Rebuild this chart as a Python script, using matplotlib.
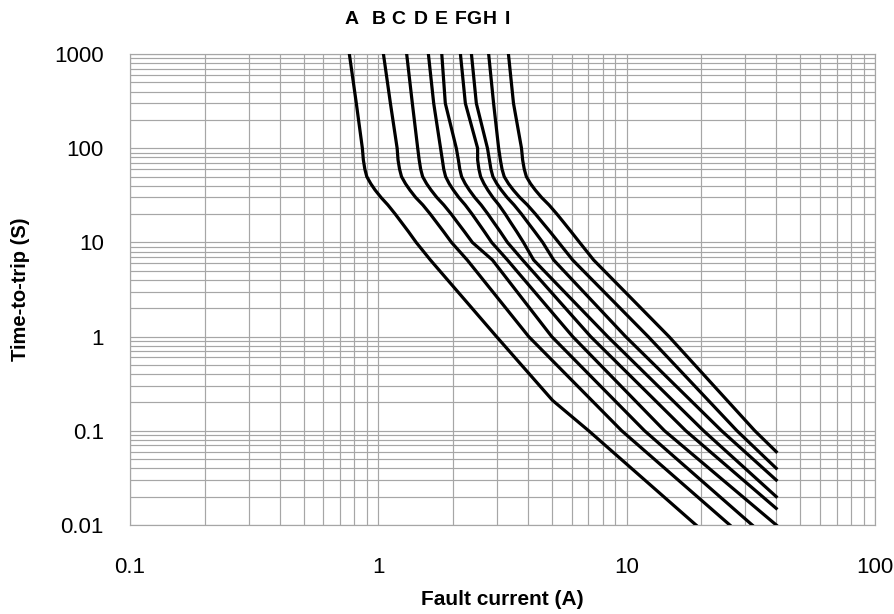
import matplotlib

matplotlib.use("Agg")
import matplotlib.pyplot as plt
from matplotlib.ticker import LogLocator, NullFormatter

# Curve names and where their letters sit along the top (fault current, A)
CURVES = ["A", "B", "C", "D", "E", "F", "G", "H", "I"]
LABEL_X = [0.778, 1.0, 1.204, 1.477, 1.795, 2.14, 2.42, 2.80, 3.31]

# Time-to-trip (s), shared by all curves down to 0.1 s
TRIP_TIMES = [1000, 300, 100, 75, 60, 50, 42, 36, 30, 25, 20, 16.5, 13, 10, 6.5, 1, 0.1]

# Fault current (A) of each curve at those times
CURRENT = {
    "A": [0.764, 0.815, 0.862, 0.87, 0.882, 0.898, 0.932, 0.970, 1.025, 1.092, 1.169, 1.235, 1.322, 1.42, 1.62, 2.99, 7.03],
    "B": [1.048, 1.118, 1.19, 1.20, 1.217, 1.239, 1.286, 1.339, 1.413, 1.510, 1.618, 1.710, 1.831, 1.97, 2.28, 4.03, 9.55],
    "C": [1.30, 1.37, 1.44, 1.46, 1.480, 1.507, 1.564, 1.629, 1.720, 1.834, 1.965, 2.075, 2.222, 2.39, 2.88, 4.99, 11.8],
    "D": [1.59, 1.67, 1.78, 1.81, 1.833, 1.865, 1.929, 2.004, 2.108, 2.237, 2.384, 2.509, 2.673, 2.86, 3.31, 6.06, 14.2],
    "E": [1.80, 1.86, 2.06, 2.10, 2.127, 2.163, 2.237, 2.323, 2.444, 2.593, 2.762, 2.905, 3.096, 3.31, 3.81, 7.16, 17.3],
    "F": [2.14, 2.24, 2.51, 2.51, 2.540, 2.580, 2.663, 2.758, 2.891, 3.057, 3.243, 3.398, 3.607, 3.84, 4.22, 8.38, 20.4],
    "G": [2.37, 2.48, 2.75, 2.80, 2.839, 2.891, 2.999, 3.125, 3.300, 3.518, 3.770, 3.981, 4.264, 4.59, 5.08, 9.9, 24.1],
    "H": [2.78, 2.91, 3.05, 3.10, 3.147, 3.211, 3.342, 3.494, 3.711, 3.981, 4.291, 4.557, 4.913, 5.32, 6.06, 12.2, 27.8],
    "I": [3.34, 3.50, 3.77, 3.81, 3.867, 3.943, 4.100, 4.283, 4.541, 4.865, 5.235, 5.555, 5.973, 6.46, 7.36, 14.8, 32.8],
}

# Last point of each curve (current A, time s)
END_CURRENT = [19, 26, 32, 40, 40, 40, 40, 40, 40]
END_TIME = [0.01, 0.01, 0.01, 0.01, 0.015, 0.02, 0.03, 0.04, 0.06]

# Extra point read on curve A between 1 s and 0.1 s
A_EXTRA = (5.03, 0.21)

X_TICKS = [0.1, 1, 10, 100]
X_TICK_LABELS = ["0.1", "1", "10", "100"]
Y_TICKS = [0.01, 0.1, 1, 10, 100, 1000]
Y_TICK_LABELS = ["0.01", "0.1", "1", "10", "100", "1000"]

GRID = "#a6a6a6"


def curve_points(i, name):
    xs = list(CURRENT[name])
    ys = list(TRIP_TIMES)
    if name == "A":
        xs.insert(-1, A_EXTRA[0])
        ys.insert(-1, A_EXTRA[1])
    xs.append(END_CURRENT[i])
    ys.append(END_TIME[i])
    return xs, ys


def main():
    plt.rcParams["font.family"] = ["Liberation Sans", "DejaVu Sans"]
    fig = plt.figure(figsize=(8.95, 6.14), dpi=100)
    ax = fig.add_axes([0.1453, 0.145, 0.8324, 0.767])

    for i, name in enumerate(CURVES):
        xs, ys = curve_points(i, name)
        ax.plot(xs, ys, color="black", lw=2.3, solid_joinstyle="round", zorder=3)

    ax.set_xscale("log")
    ax.set_yscale("log")
    ax.set_xlim(0.1, 100)
    ax.set_ylim(0.01, 1000)

    ax.set_xticks(X_TICKS, X_TICK_LABELS)
    ax.set_yticks(Y_TICKS, Y_TICK_LABELS)
    ax.xaxis.set_minor_locator(LogLocator(base=10, subs=range(2, 10)))
    ax.yaxis.set_minor_locator(LogLocator(base=10, subs=range(2, 10)))
    ax.xaxis.set_minor_formatter(NullFormatter())
    ax.yaxis.set_minor_formatter(NullFormatter())
    ax.tick_params(which="both", length=0)
    ax.tick_params(axis="x", labelsize=16, pad=23)
    ax.tick_params(axis="y", labelsize=16, pad=19)

    ax.grid(which="both", color=GRID, lw=0.85)
    ax.set_axisbelow(True)
    for spine in ax.spines.values():
        spine.set_color(GRID)
        spine.set_linewidth(0.85)

    ax.set_xlabel("Fault current (A)", fontsize=15, fontweight="bold", labelpad=9)
    ax.set_ylabel("Time-to-trip (S)", fontsize=14.5, fontweight="bold", labelpad=17)

    # Curve letters above the plot area
    for name, x in zip(CURVES, LABEL_X):
        ax.text(x, 1.074, name, transform=ax.get_xaxis_transform(), ha="center",
                va="center", fontsize=14, fontweight="bold")

    fig.savefig("out.png", dpi=100)


if __name__ == "__main__":
    main()
